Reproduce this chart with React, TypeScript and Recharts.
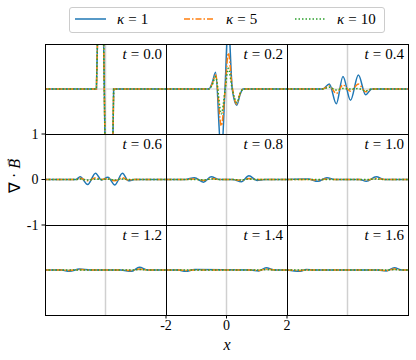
import React from 'react';
import { LineChart, Line, XAxis, YAxis, ReferenceLine } from 'recharts';

// series styling (matplotlib tab10)
const BLUE = '#1f77b4';
const ORANGE = '#ff7f0e';
const GREEN = '#2ca02c';
const GRID = '#d0d0d0';
const SERIF = '"Liberation Serif", "Times New Roman", serif';

const TIMES = ['0.0', '0.2', '0.4', '0.6', '0.8', '1.0', '1.2', '1.4', '1.6'];
const KAPPAS = ['1', '5', '10'];
const X_TICKS = [-2, 0, 2];
const Y_TICKS = [-1, 0, 1];

// t = 0.0
const X_T00 = [-2, -0.3, -0.2, -0.1, 0.02, 0.2, 0.27, 2];
const K1_T00 = [0, 0, 3, 3, -3, -3, 0, 0];
const K5_T00 = [0, 0, 3, 3, -3, -3, 0, 0];
const K10_T00 = [0, 0, 3, 3, -3, -3, 0, 0];

// t = 0.2
const X_T02 = [-2, -0.58, -0.48, -0.36, -0.17, -0.05, 0.06, 0.19, 0.34, 0.45, 0.55, 2];
const K1_T02 = [0, 0, 0.12, 0.37, -1.5, 0, 1.5, 0, -0.36, -0.12, 0, 0];
const K5_T02 = [0, 0, 0.1, 0.31, -0.82, -0.05, 0.8, 0.05, -0.33, -0.1, 0, 0];
const K10_T02 = [0, 0, 0.08, 0.27, -0.55, -0.05, 0.46, 0, -0.3, -0.1, 0, 0];

// t = 0.4
const X_T04 = [-2, -0.82, -0.6, -0.37, -0.15, 0.1, 0.36, 0.6, 0.8, 2];
const K1_T04 = [0, 0, 0.11, -0.33, 0.28, -0.25, 0.31, -0.13, 0, 0];
const K5_T04 = [0, 0, 0.07, -0.1, 0.09, -0.05, 0.11, -0.06, 0, 0];
const K10_T04 = [0, 0, 0.04, -0.02, 0.01, 0, 0.01, -0.04, 0, 0];

// t = 0.6
const X_T06 = [-2, -0.97, -0.84, -0.59, -0.33, -0.13, 0.08, 0.31, 0.56, 0.76, 0.96, 2];
const K1_T06 = [0, 0, 0.06, -0.11, 0.14, -0.01, 0.05, -0.12, 0.14, -0.03, 0, 0];
const K5_T06 = [0, 0, 0.03, -0.03, 0.04, 0, 0.02, -0.03, 0.04, -0.01, 0, 0];
const K10_T06 = [0, 0, 0.01, -0.01, 0.01, 0, 0.01, -0.01, 0.01, 0, 0, 0];

// t = 0.8
const X_T08 = [-2, -1.36, -1.06, -0.76, -0.51, -0.23, 0.2, 0.49, 0.74, 1.01, 1.26, 2];
const K1_T08 = [0, 0, 0.04, -0.06, 0.06, 0, 0, -0.05, 0.08, -0.02, 0, 0];
const K5_T08 = [0, 0, 0.01, -0.02, 0.02, 0, 0, -0.02, 0.02, 0, 0, 0];
const K10_T08 = [0, 0, 0, -0.01, 0.01, 0, 0, -0.01, 0.01, 0, 0, 0];

// t = 1.0
const X_T10 = [-2, -1.3, -0.98, -0.68, -0.4, 0.4, 0.62, 0.95, 1.22, 2];
const K1_T10 = [0, 0.01, -0.04, 0.04, 0, 0, -0.04, 0.06, 0, 0];
const K5_T10 = [0, 0, -0.01, 0.01, 0, 0, -0.01, 0.02, 0, 0];
const K10_T10 = [0, 0, 0, 0, 0, 0, 0, 0.01, 0, 0];

// t = 1.2
const X_T12 = [-2, -1.45, -1.19, -0.86, -0.5, 0.5, 0.85, 1.12, 1.4, 2];
const K1_T12 = [0, 0, -0.03, 0.02, 0, 0, -0.03, 0.06, 0, 0];
const K5_T12 = [0, 0, -0.01, 0.01, 0, 0, -0.01, 0.02, 0, 0];
const K10_T12 = [0, 0, 0, 0, 0, 0, 0, 0.01, 0, 0];

// t = 1.4
const X_T14 = [-2, -1.6, -1.35, -1.05, 0.8, 1.06, 1.31, 1.6, 2];
const K1_T14 = [0, 0, -0.03, 0.01, 0, -0.02, 0.05, 0, 0];
const K5_T14 = [0, 0, -0.01, 0, 0, -0.01, 0.02, 0, 0];
const K10_T14 = [0, 0, 0, 0, 0, 0, 0.01, 0, 0];

// t = 1.6
const X_T16 = [-2, -1.59, -1.36, -1.1, 1.0, 1.28, 1.55, 1.8, 2];
const K1_T16 = [0, -0.03, 0.01, 0, 0, -0.02, 0.05, 0, 0];
const K5_T16 = [0, -0.01, 0, 0, 0, -0.01, 0.02, 0, 0];
const K10_T16 = [0, 0, 0, 0, 0, 0, 0.01, 0, 0];

const PANELS = [
  [X_T00, K1_T00, K5_T00, K10_T00],
  [X_T02, K1_T02, K5_T02, K10_T02],
  [X_T04, K1_T04, K5_T04, K10_T04],
  [X_T06, K1_T06, K5_T06, K10_T06],
  [X_T08, K1_T08, K5_T08, K10_T08],
  [X_T10, K1_T10, K5_T10, K10_T10],
  [X_T12, K1_T12, K5_T12, K10_T12],
  [X_T14, K1_T14, K5_T14, K10_T14],
  [X_T16, K1_T16, K5_T16, K10_T16],
];

const SERIES = [
  { key: 'k1', color: BLUE, dash: undefined },
  { key: 'k5', color: ORANGE, dash: '6 2 1.5 2' },
  { key: 'k10', color: GREEN, dash: '1.5 2' },
];

// layout
const PLOT_LEFT = 45;
const PANEL_W = 121;
const ROW_TOP = [44, 134, 225, 315];
const PAD = 10;

function Panel({ idx }: { idx: number }) {
  const col = idx % 3;
  const row = Math.floor(idx / 3);
  const x0 = PLOT_LEFT + col * PANEL_W;
  const y0 = ROW_TOP[row];
  const h = ROW_TOP[row + 1] - y0;
  const yAxisW = col === 0 ? 45 : 0;
  const xAxisH = row === 2 ? 30 : 0;
  const [xs, a, b, c] = PANELS[idx];
  const data = xs.map((x, i) => ({ x, k1: a[i], k5: b[i], k10: c[i] }));
  const tickStyle = { fill: '#000', fontSize: 14, fontFamily: SERIF };

  return (
    <>
      <div style={{ position: 'absolute', left: x0 - yAxisW - PAD, top: y0 - PAD }}>
        <LineChart
          width={PANEL_W + yAxisW + 2 * PAD}
          height={h + 2 * PAD + xAxisH}
          data={data}
          margin={{ top: PAD, right: PAD, bottom: PAD, left: PAD }}
        >
          <XAxis
            type="number"
            dataKey="x"
            domain={[-2, 2]}
            ticks={X_TICKS}
            allowDataOverflow
            hide={row !== 2}
            height={xAxisH || 1}
            axisLine={false}
            tickSize={3.5}
            tickLine={{ stroke: '#000' }}
            tick={col === 1 ? tickStyle : false}
            interval={0}
          />
          <YAxis
            type="number"
            domain={[-1, 1]}
            ticks={Y_TICKS}
            allowDataOverflow
            hide={col !== 0}
            width={yAxisW || 1}
            axisLine={false}
            tickSize={3.5}
            tickMargin={3}
            tickLine={{ stroke: '#000' }}
            tick={row === 1 ? tickStyle : false}
          />
          <ReferenceLine x={0} stroke={GRID} strokeWidth={1.5} />
          <ReferenceLine y={0} stroke={GRID} strokeWidth={1} />
          {SERIES.map(s => (
            <Line
              key={s.key}
              type={idx === 0 ? 'linear' : 'monotone'}
              dataKey={s.key}
              stroke={s.color}
              strokeWidth={1.5}
              strokeDasharray={s.dash}
              dot={false}
              isAnimationActive={false}
            />
          ))}
        </LineChart>
      </div>
      <div
        style={{
          position: 'absolute', left: x0, top: y0, width: PANEL_W + 1, height: h + 1,
          boxSizing: 'border-box', border: '1px solid #000', pointerEvents: 'none',
        }}
      />
      <div
        style={{
          position: 'absolute', right: 416 - (x0 + PANEL_W - 4), top: y0 + 1,
          fontFamily: SERIF, fontSize: 15, lineHeight: '18px', whiteSpace: 'nowrap',
        }}
      >
        <i>t</i>
        <span style={{ margin: '0 4px' }}>=</span>
        {TIMES[idx]}
      </div>
    </>
  );
}

function LegendItem({ x, color, dash, kappa }: { x: number; color: string; dash?: string; kappa: string }) {
  return (
    <>
      <svg style={{ position: 'absolute', left: x, top: 14 }} width={31} height={10}>
        <line x1={0} y1={5} x2={31} y2={5} stroke={color} strokeWidth={1.5} strokeDasharray={dash} />
      </svg>
      <div
        style={{
          position: 'absolute', left: x + 42, top: 10, fontFamily: SERIF, fontSize: 15,
          lineHeight: '18px', whiteSpace: 'nowrap',
        }}
      >
        <i>κ</i>
        <span style={{ margin: '0 4px' }}>=</span>
        {kappa}
      </div>
    </>
  );
}

const LEGEND_X = [75, 184, 295];

export default function App() {
  return (
    <div style={{ position: 'absolute', left: 0, top: 0, width: 416, height: 360, background: '#fff', overflow: 'hidden' }}>
      <div
        style={{
          position: 'absolute', left: 69, top: 7, width: 316, height: 26, boxSizing: 'border-box',
          border: '1px solid #cccccc', borderRadius: 3,
        }}
      />
      {SERIES.map((s, i) => (
        <LegendItem key={s.key} x={LEGEND_X[i]} color={s.color} dash={s.dash} kappa={KAPPAS[i]} />
      ))}

      {TIMES.map((t, i) => <Panel key={t} idx={i} />)}

      <div
        style={{
          position: 'absolute', left: 15, top: 176, transform: 'translate(-50%, -50%) rotate(-90deg)',
          fontFamily: SERIF, fontSize: 16, whiteSpace: 'nowrap', lineHeight: '20px',
        }}
      >
        ∇ · <span style={{ position: 'relative', fontStyle: 'italic' }}>
          B
          <span style={{ position: 'absolute', left: 2, top: -9, fontSize: 10, fontStyle: 'normal' }}>→</span>
        </span>
      </div>
      <div
        style={{
          position: 'absolute', left: 227, top: 345, transform: 'translate(-50%, -50%)',
          fontFamily: SERIF, fontSize: 16, fontStyle: 'italic',
        }}
      >
        x
      </div>
    </div>
  );
}
